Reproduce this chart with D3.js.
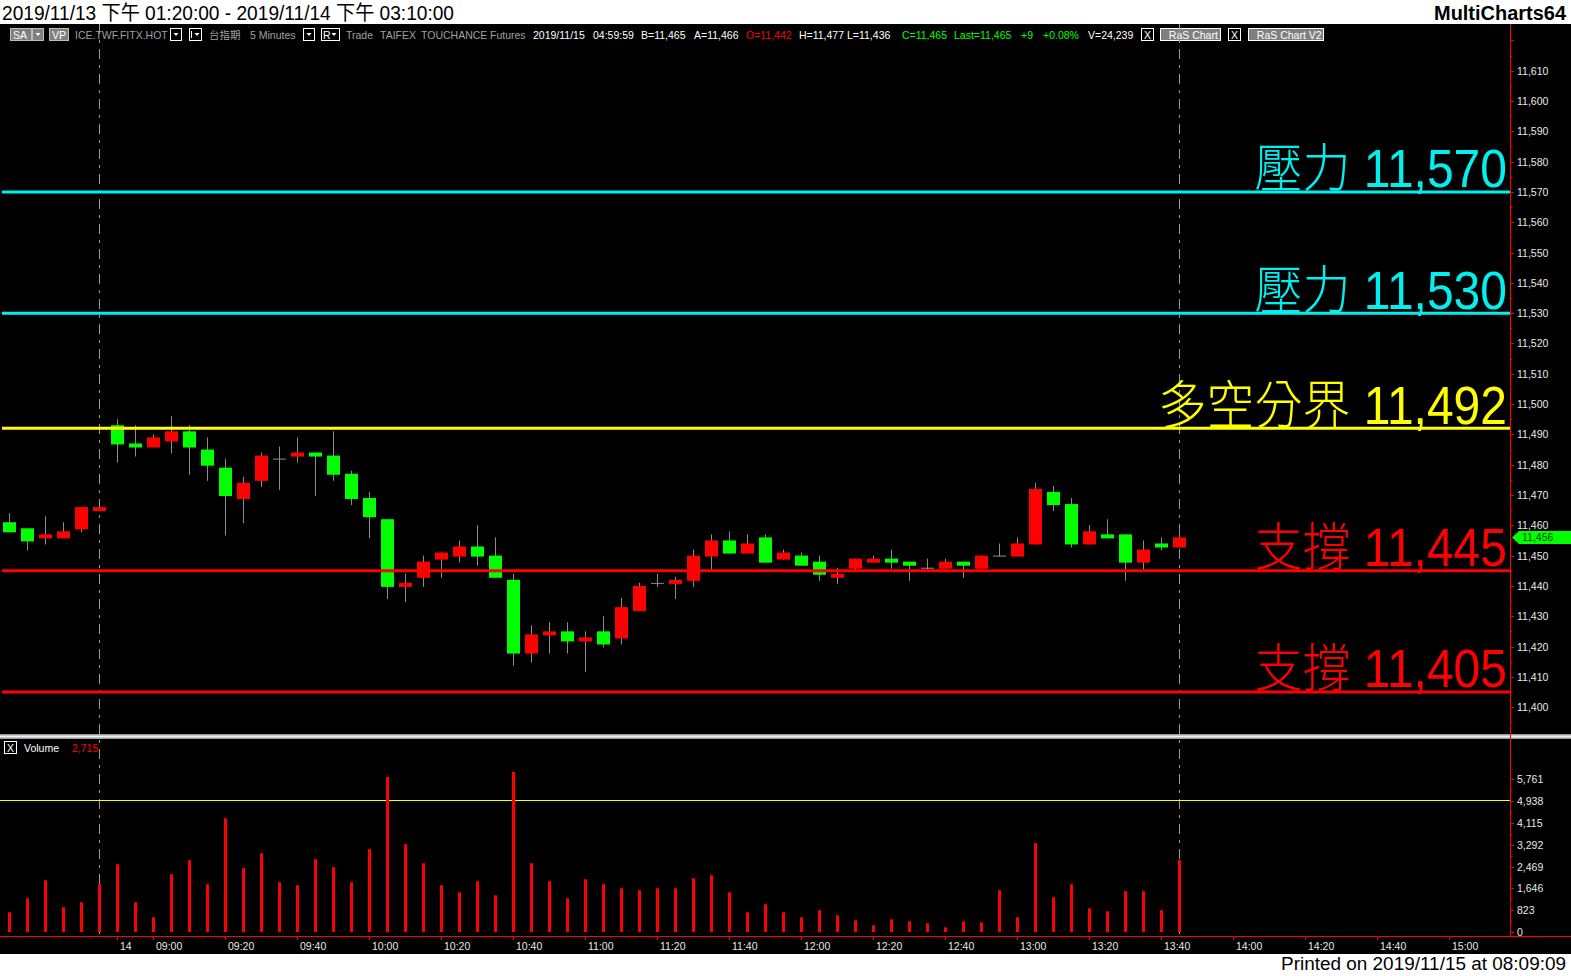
<!DOCTYPE html>
<html><head><meta charset="utf-8">
<script src="https://cdn.jsdelivr.net/npm/d3@7/dist/d3.min.js"></script>
<style>html,body{margin:0;padding:0;background:#fff;overflow:hidden}</style>
</head><body><svg id="c" width="1571" height="976"></svg>
<script>
// ---------------- DATA ----------------
const opens  = [11461,11459,11456,11456,11459,11465, 11493,11487,11486,11488,11491,11485,11479,11469,11475,11482,11483,11484,11483,11477,11469,11462,11440,11443,11449,11450,11453,11450,11442,11418,11424,11425,11422,11425,11423,11432,11441,11441,11442,11450,11455,11451,11456,11449,11450,11448,11443,11446,11448,11449,11448,11446,11446,11448,11446,11450,11450,11454,11471,11467,11454,11457,11457,11448,11454,11453];
const highs  = [11464,11459,11463,11461,11466,11466, 11495,11493,11490,11496,11493,11489,11482,11476,11484,11486,11489,11484,11491,11478,11471,11462,11444,11450,11451,11455,11460,11456,11444,11427,11428,11428,11425,11430,11436,11441,11444,11443,11452,11457,11458,11457,11457,11452,11451,11450,11446,11449,11450,11452,11448,11449,11449,11448,11450,11454,11456,11474,11473,11469,11460,11462,11457,11455,11456,11459];
const lows   = [11458,11452,11454,11456,11458,11465, 11481,11483,11486,11484,11477,11475,11457,11461,11473,11472,11481,11470,11475,11467,11456,11436,11435,11440,11443,11448,11447,11443,11414,11415,11418,11418,11412,11420,11421,11432,11440,11436,11440,11445,11451,11451,11448,11449,11447,11442,11441,11445,11448,11446,11442,11445,11446,11443,11446,11450,11450,11454,11465,11453,11454,11456,11442,11445,11452,11453];
const closes = [11458,11455,11457,11458,11466,11466, 11487,11486,11489,11491,11486,11480,11470,11474,11483,11482,11484,11483,11477,11469,11463,11440,11441,11448,11451,11453,11450,11443,11418,11424,11425,11422,11423,11421,11433,11440,11441,11442,11450,11455,11451,11454,11448,11451,11447,11444,11444,11449,11449,11448,11447,11446,11448,11447,11450,11450,11454,11472,11467,11454,11458,11456,11448,11452,11453,11456];
const volumes = [744,1273,1954,933,1122,1803, 2559,1122,555,2181,2710,1803,4299,2408,2975,1878,1765,2748,2446,1878,3126,5849,3315,2597,1765,1500,1916,1387,6038,2597,1916,1273,1992,1803,1651,1576,1651,1651,2030,2143,1500,744,1046,744,555,819,630,441,252,479,403,328,176,403,366,1576,555,3353,1311,1803,895,782,1538,1538,819,2715];

const xTickLabels = ["14","09:00","09:20","09:40","10:00","10:20","10:40","11:00","11:20","11:40","12:00","12:20","12:40","13:00","13:20","13:40","14:00","14:20","14:40","15:00"];
const xTickSlots  = [6,8,12,16,20,24,28,32,36,40,44,48,52,56,60,64,68,72,76,80];
const sessionBreakSlots = [5,65];

const levelValues = [11570,11530,11492,11445,11405];
const levelNames  = ["壓力","壓力","多空分界","支撐","支撐"];

const volTicks = [0,823,1646,2469,3292,4115,4938,5761];
const volAlert = 5000;
const lastPrice = 11456;
const lastVolume = 2715;

// ---------------- STYLE ----------------
const levelColor = {"壓力":"#00f0f0","多空分界":"#ffff00","支撐":"#ff0000"};
const UP="#ff0000", DN="#00ff00", WICK="#8c8c8c", AXIS="#ff0000", TXT="#e8e8e8";
const FONT="'Liberation Sans', Arial, 'Noto Sans CJK TC', sans-serif";

const svg = d3.select('#c');
svg.append('rect').attr('width',1571).attr('height',976).attr('fill','#fff');
svg.append('rect').attr('x',0).attr('y',24).attr('width',1571).attr('height',930).attr('fill','#000');

const x  = d3.scaleLinear().domain([0,83.372]).range([9.3,1510]);
const yP = d3.scaleLinear().domain([11390.8,11625.4]).range([735,24]);
const yV = d3.scaleLinear().domain([0,5761]).range([932,779.4]);
const AXX = 1510;

// header texts
svg.append('text').attr('x',2).attr('y',19.5).attr('font-family',FONT).attr('font-size',20)
  .attr('textLength',452).attr('lengthAdjust','spacingAndGlyphs').attr('fill','#000')
  .text('2019/11/13 下午 01:20:00 - 2019/11/14 下午 03:10:00');
svg.append('text').attr('x',1566).attr('y',19.5).attr('text-anchor','end').attr('font-family',FONT).attr('font-size',20).attr('font-weight','bold')
  .attr('textLength',132).attr('lengthAdjust','spacingAndGlyphs').attr('fill','#000').text('MultiCharts64');
svg.append('text').attr('x',1566).attr('y',970).attr('text-anchor','end').attr('font-family',FONT).attr('font-size',18)
  .attr('textLength',285).attr('lengthAdjust','spacingAndGlyphs').attr('fill','#000').text('Printed on 2019/11/15 at 08:09:09');

// status line
const st = svg.append('g').attr('font-family',FONT).attr('font-size',10.5);
function box(x0,w,fill,stroke){ st.append('rect').attr('x',x0+0.5).attr('y',28.5).attr('width',w).attr('height',12).attr('fill',fill).attr('stroke',stroke); }
function arrow(cx){ st.append('path').attr('d',`M${cx-2.5},33 L${cx+2.5},33 L${cx},36 Z`).attr('fill','#fff'); }
box(10,21,'#808080','#bdbdbd'); st.append('text').attr('x',13).attr('y',39).attr('fill','#fff').text('SA');
box(32,11,'#808080','#bdbdbd'); arrow(38);
box(49,19,'#808080','#bdbdbd'); st.append('text').attr('x',52).attr('y',39).attr('fill','#fff').text('VP');
box(170,11,'#000','#fff'); arrow(176);
box(189,12,'#000','#fff'); st.append('rect').attr('x',191).attr('y',31).attr('width',1).attr('height',7).attr('fill','#fff'); arrow(197);
box(303,11,'#000','#fff'); arrow(309);
box(321,18,'#000','#fff'); st.append('text').attr('x',323).attr('y',39).attr('fill','#fff').text('R'); arrow(334);
box(1141,12,'#000','#fff'); st.append('text').attr('x',1144).attr('y',39).attr('fill','#fff').text('X');
box(1160,60,'#808080','#fff'); st.append('text').attr('x',1163).attr('y',39).attr('fill','#fff').text('_RaS Chart');
box(1228,12,'#000','#fff'); st.append('text').attr('x',1231).attr('y',39).attr('fill','#fff').text('X');
box(1248,75,'#808080','#fff'); st.append('text').attr('x',1251).attr('y',39).attr('fill','#fff').text('_RaS Chart V2');
const tokens = [
 [75,'ICE.TWF.FITX.HOT','#a0a0a0'],[209,'台指期','#a0a0a0'],[250,'5 Minutes','#a0a0a0'],
 [346,'Trade','#a0a0a0'],[380,'TAIFEX','#a0a0a0'],[421,'TOUCHANCE','#a0a0a0'],[490,'Futures','#a0a0a0'],
 [533,'2019/11/15','#fff'],[593,'04:59:59','#fff'],[641,'B=11,465','#fff'],[694,'A=11,466','#fff'],
 [746,'O=11,442','#ff0000'],[799,'H=11,477','#fff'],[847,'L=11,436','#fff'],
 [902,'C=11,465','#00ff00'],[954,'Last=11,465','#00ff00'],[1021,'+9','#00ff00'],[1043,'+0.08%','#00ff00'],
 [1088,'V=24,239','#fff']];
tokens.forEach(t=>st.append('text').attr('x',t[0]).attr('y',39).attr('fill',t[2]).text(t[1]));

// dashed session lines
svg.append('g').selectAll('line').data(sessionBreakSlots).join('line')
  .attr('x1',d=>Math.round(x(d))+0.5).attr('x2',d=>Math.round(x(d))+0.5)
  .attr('y1',24).attr('y2',936).attr('stroke','#9a9a9a').attr('stroke-dasharray','10,6,3,6');

// candles
const idx = d3.range(opens.length);
const cg = svg.append('g');
cg.selectAll('line.w').data(idx).join('line').attr('class','w')
  .attr('x1',i=>Math.round(x(i))+0.5).attr('x2',i=>Math.round(x(i))+0.5)
  .attr('y1',i=>yP(highs[i])).attr('y2',i=>yP(lows[i])+1).attr('stroke',WICK).attr('stroke-width',1);
cg.selectAll('rect.b').data(idx).join('rect').attr('class','b')
  .attr('x',i=>Math.round(x(i))-6).attr('width',13)
  .attr('y',i=>yP(Math.max(opens[i],closes[i])))
  .attr('height',i=>Math.abs(yP(opens[i])-yP(closes[i]))+1)
  .attr('fill',i=>closes[i]>opens[i]?UP:(closes[i]<opens[i]?DN:WICK));

// levels
const lg = svg.append('g');
lg.selectAll('line').data(levelValues).join('line')
  .attr('x1',2).attr('x2',AXX).attr('y1',d=>yP(d)).attr('y2',d=>yP(d))
  .attr('stroke',(d,i)=>levelColor[levelNames[i]]).attr('stroke-width',3);
lg.selectAll('text').data(levelValues).join('text')
  .attr('transform',d=>`translate(1507,${yP(d)-4.5}) scale(1,1.1)`).attr('text-anchor','end')
  .attr('font-family',FONT).attr('font-size',48).attr('font-weight',300)
  .attr('fill',(d,i)=>levelColor[levelNames[i]])
  .text((d,i)=>levelNames[i]+' '+d3.format(',')(d));

// right price axis
const ag = svg.append('g').attr('font-family',FONT).attr('font-size',10.5);
const pt = d3.range(11395,11626,5).filter(v=>yP(v)>28 && yP(v)<731);
ag.selectAll('line').data(pt).join('line')
  .attr('x1',AXX).attr('x2',d=>AXX+(d%10===0?4:2.5)).attr('y1',d=>Math.round(yP(d))+0.5).attr('y2',d=>Math.round(yP(d))+0.5)
  .attr('stroke',AXIS);
ag.selectAll('text').data(pt.filter(d=>d%10===0 && yP(d)>55)).join('text')
  .attr('x',1517).attr('y',d=>yP(d)+4).attr('fill',TXT).text(d=>d3.format(',')(d));

// last price marker
const ly = yP(lastPrice);
svg.append('path').attr('d',`M1512,${ly} L1519,${ly-6.5} L1571,${ly-6.5} L1571,${ly+6.5} L1519,${ly+6.5} Z`).attr('fill','#00ff00');
svg.append('text').attr('x',1522).attr('y',ly+4).attr('font-family',FONT).attr('font-size',10.5).attr('fill','#004000').text(d3.format(',')(lastPrice));

// separator
svg.append('rect').attr('x',0).attr('y',734).attr('width',1571).attr('height',5).attr('fill','#9c9c9c');
svg.append('rect').attr('x',0).attr('y',735.5).attr('width',1571).attr('height',2).attr('fill','#f2f2f2');

// volume pane
svg.append('line').attr('x1',0).attr('x2',AXX).attr('y1',Math.round(yV(volAlert))+0.5).attr('y2',Math.round(yV(volAlert))+0.5).attr('stroke','#ffff00');
svg.append('g').selectAll('rect').data(idx).join('rect')
  .attr('x',i=>Math.round(x(i))-1).attr('width',3)
  .attr('y',i=>yV(volumes[i])).attr('height',i=>yV(0)-yV(volumes[i])).attr('fill',UP);
const vg = svg.append('g').attr('font-family',FONT).attr('font-size',10.5);
const vMinor = volTicks.slice(0,-1).map((d,i)=>(d+volTicks[i+1])/2);
vg.selectAll('line.mj').data(volTicks).join('line').attr('class','mj')
  .attr('x1',AXX).attr('x2',AXX+4).attr('y1',d=>Math.round(yV(d))+0.5).attr('y2',d=>Math.round(yV(d))+0.5).attr('stroke',AXIS);
vg.selectAll('line.mn').data(vMinor).join('line').attr('class','mn')
  .attr('x1',AXX).attr('x2',AXX+2.5).attr('y1',d=>Math.round(yV(d))+0.5).attr('y2',d=>Math.round(yV(d))+0.5).attr('stroke',AXIS);
vg.selectAll('text').data(volTicks).join('text').attr('x',1517).attr('y',d=>yV(d)+4).attr('fill',TXT).text(d=>d3.format(',')(d));
svg.append('rect').attr('x',4.5).attr('y',741.5).attr('width',12).attr('height',12).attr('fill','none').attr('stroke','#fff');
svg.append('text').attr('x',7).attr('y',751.5).attr('font-family',FONT).attr('font-size',10.5).attr('fill','#fff').text('X');
svg.append('text').attr('x',24).attr('y',751.5).attr('font-family',FONT).attr('font-size',10.5).attr('fill','#fff').text('Volume');
svg.append('text').attr('x',72).attr('y',751.5).attr('font-family',FONT).attr('font-size',10.5).attr('fill','#ff0000').text(d3.format(',')(lastVolume));

// axis lines
svg.append('line').attr('x1',AXX+0.5).attr('x2',AXX+0.5).attr('y1',24).attr('y2',936).attr('stroke',AXIS);
svg.append('line').attr('x1',0).attr('x2',1571).attr('y1',936.5).attr('y2',936.5).attr('stroke',AXIS);
const xg = svg.append('g').attr('font-family',FONT).attr('font-size',10.5);
xg.selectAll('line').data(xTickSlots).join('line')
  .attr('x1',d=>Math.round(x(d))+0.5).attr('x2',d=>Math.round(x(d))+0.5).attr('y1',936).attr('y2',940).attr('stroke',AXIS);
xg.selectAll('text').data(xTickSlots).join('text')
  .attr('x',d=>Math.round(x(d))+3).attr('y',950).attr('fill',TXT).text((d,i)=>xTickLabels[i]);
</script></body></html>
